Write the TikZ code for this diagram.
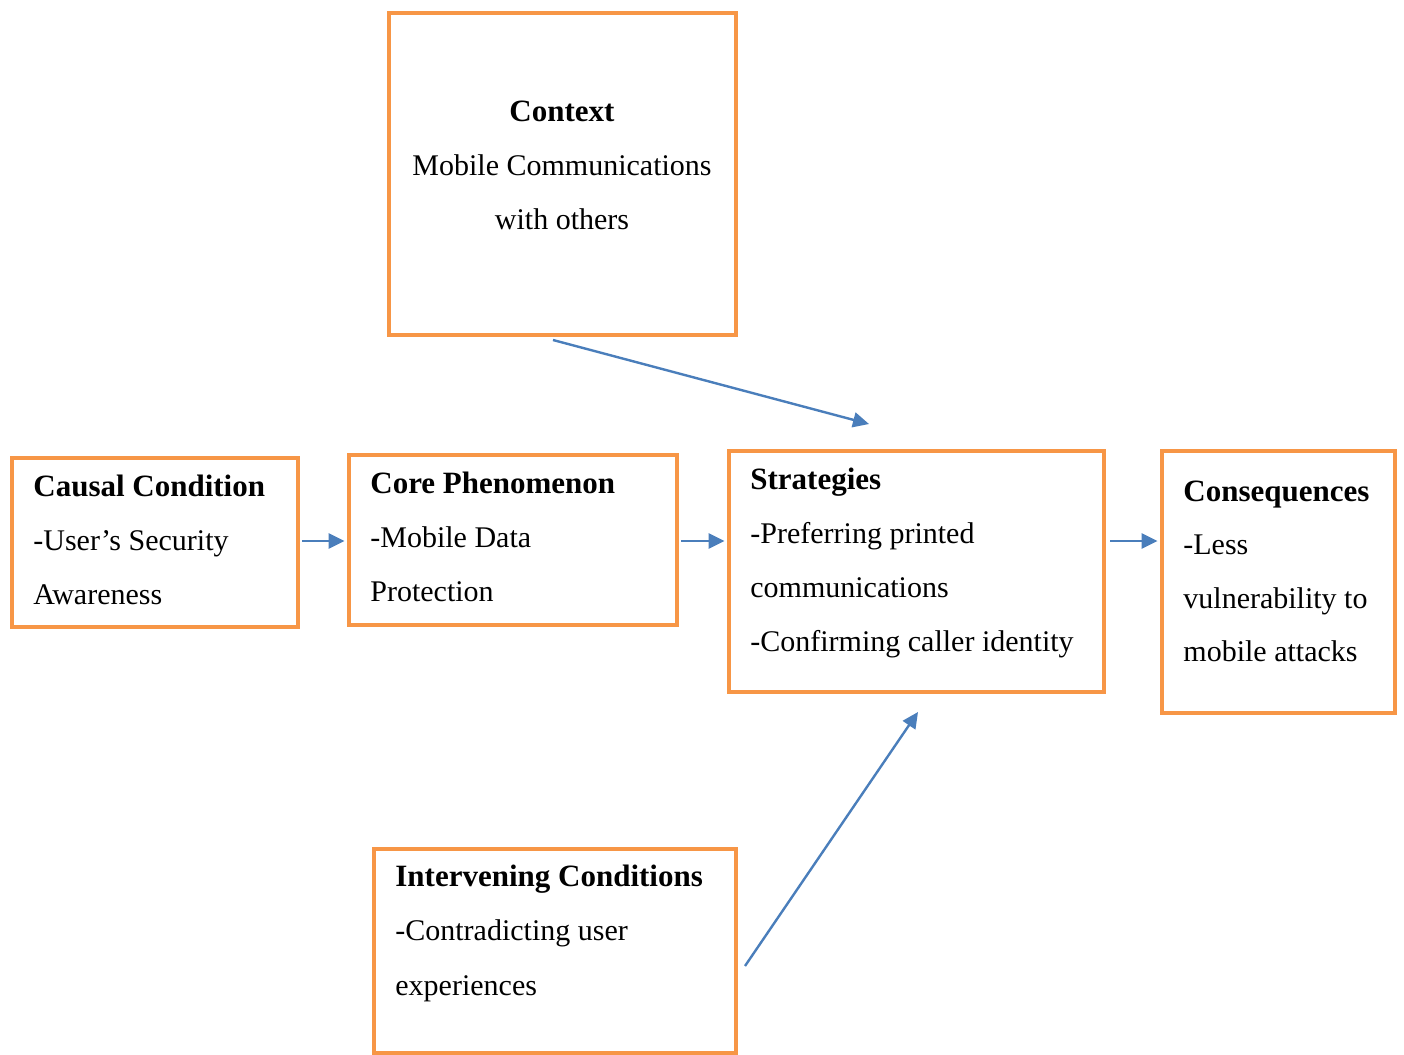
\documentclass[tikz,border=0pt]{standalone}
\usepackage{fontspec}
\setmainfont{Liberation Serif}
\usetikzlibrary{arrows.meta}
\definecolor{boxorange}{HTML}{F79646}
\definecolor{arrowblue}{HTML}{4A7EBB}
\begin{document}
\begin{tikzpicture}[x=0.5pt,y=-0.5pt,
  box/.style={draw=boxorange,line width=2.4pt,fill=none,inner sep=0pt},
  txt/.style={anchor=base west,inner sep=0pt,font=\fontsize{15}{18}\selectfont},
  head/.style={txt,font=\fontsize{15.5}{18}\selectfont\bfseries},
  ctxt/.style={txt,anchor=base},
  arr/.style={draw=arrowblue,line width=1.2pt,-{Triangle[length=8pt,width=7.5pt]}}]
\useasboundingbox (0,0) rectangle (1404,1055);
% boxes
\node[box,minimum width=173.5pt,minimum height=161pt] (context) at (562.5,174) {};
\node[box,minimum width=143pt,minimum height=84.5pt] (causal) at (155,542.5) {};
\node[box,minimum width=164pt,minimum height=85pt] (core) at (513,540) {};
\node[box,minimum width=187.5pt,minimum height=120.5pt] (strat) at (916.5,571.5) {};
\node[box,minimum width=116.5pt,minimum height=131pt] (cons) at (1278.5,582) {};
\node[box,minimum width=181pt,minimum height=102pt] (interv) at (555,951) {};
% context text
\node[ctxt,font=\fontsize{15.5}{18}\selectfont\bfseries] (ctx1) at (562,121) {Context};
\node[ctxt] (ctx2) at (562,175) {Mobile Communications};
\node[ctxt] (ctx3) at (562,229) {with others};
% causal condition text
\node[head] (cau1) at (33,496) {Causal Condition};
\node[txt] (cau2) at (33,550) {-User’s Security};
\node[txt] (cau3) at (33,604) {Awareness};
% core phenomenon text
\node[head] (cor1) at (370,493) {Core Phenomenon};
\node[txt] (cor2) at (370,547) {-Mobile Data};
\node[txt] (cor3) at (370,601) {Protection};
% strategies text
\node[head] (str1) at (750,489) {Strategies};
\node[txt] (str2) at (750,543) {-Preferring printed};
\node[txt] (str3) at (750,597) {communications};
\node[txt] (str4) at (750,651) {-Confirming caller identity};
% consequences text
\node[head] (con1) at (1183,501) {Consequences};
\node[txt] (con2) at (1183,554) {-Less};
\node[txt] (con3) at (1183,608) {vulnerability to};
\node[txt] (con4) at (1183,661) {mobile attacks};
% intervening conditions text
\node[head] (int1) at (395,886) {Intervening Conditions};
\node[txt] (int2) at (395,940) {-Contradicting user};
\node[txt] (int3) at (395,995) {experiences};
% free ends of the slanted connectors
\coordinate (ctxS) at (553,340);
\coordinate (stratN) at (869,424);
\coordinate (intE) at (745,966);
\coordinate (stratS) at (918,712);
% connectors
\draw[arr] ([xshift=1pt]causal.east |- 0,541) -- ([xshift=-1pt]core.west |- 0,541);
\draw[arr] ([xshift=1pt]core.east |- 0,541) -- ([xshift=-1pt]strat.west |- 0,541);
\draw[arr] ([xshift=2pt]strat.east |- 0,541) -- ([xshift=-1pt]cons.west |- 0,541);
\draw[arr] (ctxS) -- (stratN);
\draw[arr] (intE) -- (stratS);
\end{tikzpicture}
\end{document}
